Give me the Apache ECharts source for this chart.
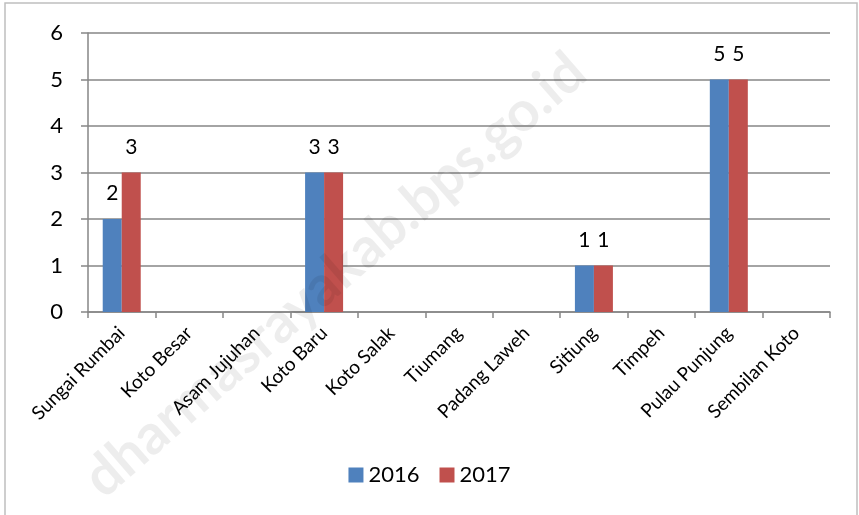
<!DOCTYPE html>
<html>
<head>
<meta charset="utf-8">
<script src="https://cdn.jsdelivr.net/npm/echarts@6/dist/echarts.min.js"></script>
<style>
  html, body { margin: 0; padding: 0; background: #fff; }
  #chart { width: 859px; height: 515px; }
</style>
</head>
<body>
<div id="chart"></div>
<script>
const categories = ["Sungai Rumbai", "Koto Besar", "Asam Jujuhan", "Koto Baru", "Koto Salak",
  "Tiumang", "Padang Laweh", "Sitiung", "Timpeh", "Pulau Punjung", "Sembilan Koto"];
const values2016 = [2, null, null, 3, null, null, null, 1, null, 5, null];
const values2017 = [3, null, null, 3, null, null, null, 1, null, 5, null];
const yTicks = [0, 1, 2, 3, 4, 5, 6];

const chart = echarts.init(document.getElementById("chart"));
const font = "Lato, 'Open Sans', sans-serif";

const labelStyle = {
  show: true,
  position: "top",
  distance: 15,
  fontSize: 21,
  color: "#000",
  fontFamily: font
};

chart.setOption({
  animation: false,
  graphic: [
    {
      type: "rect",
      shape: { x: 5, y: 3, width: 852, height: 520 },
      style: { fill: "none", stroke: "#bfbfbf", lineWidth: 1.5 },
      z: 0
    },
    {
      type: "text",
      x: 335,
      y: 275,
      rotation: Math.PI * 41 / 180,
      style: {
        text: "dharmasrayakab.bps.go.id",
        font: "bold 56px " + font,
        fill: "rgba(0,0,0,0.07)",
        align: "center",
        verticalAlign: "middle"
      },
      z: 100
    }
  ],
  legend: {
    bottom: 24,
    left: "center",
    itemWidth: 15,
    itemHeight: 15,
    itemGap: 20,
    icon: "rect",
    textStyle: { fontSize: 22, color: "#000", fontFamily: font }
  },
  grid: { left: 88, right: 29, top: 33, bottom: 203 },
  xAxis: {
    type: "category",
    data: categories,
    axisLine: { lineStyle: { color: "#868686", width: 1.5 } },
    axisTick: { show: true, length: 6, lineStyle: { color: "#868686", width: 1.5 } },
    axisLabel: {
      rotate: 45,
      fontSize: 19,
      color: "#000",
      fontFamily: font,
      margin: 18,
      interval: 0
    }
  },
  yAxis: {
    type: "value",
    min: yTicks[0],
    max: yTicks[yTicks.length - 1],
    interval: 1,
    axisLine: { show: true, lineStyle: { color: "#868686", width: 1.5 } },
    axisTick: { show: true, length: 7, lineStyle: { color: "#868686", width: 1.5 } },
    splitLine: { lineStyle: { color: "#868686", width: 1.5 } },
    axisLabel: { fontSize: 22, color: "#000", fontFamily: font, margin: 25 }
  },
  series: [
    {
      name: "2016",
      type: "bar",
      data: values2016,
      barWidth: 19,
      barGap: "0%",
      itemStyle: { color: "#4f81bd" },
      label: labelStyle
    },
    {
      name: "2017",
      type: "bar",
      data: values2017,
      barWidth: 19,
      itemStyle: { color: "#c0504d" },
      label: labelStyle
    }
  ]
});
</script>
</body>
</html>
